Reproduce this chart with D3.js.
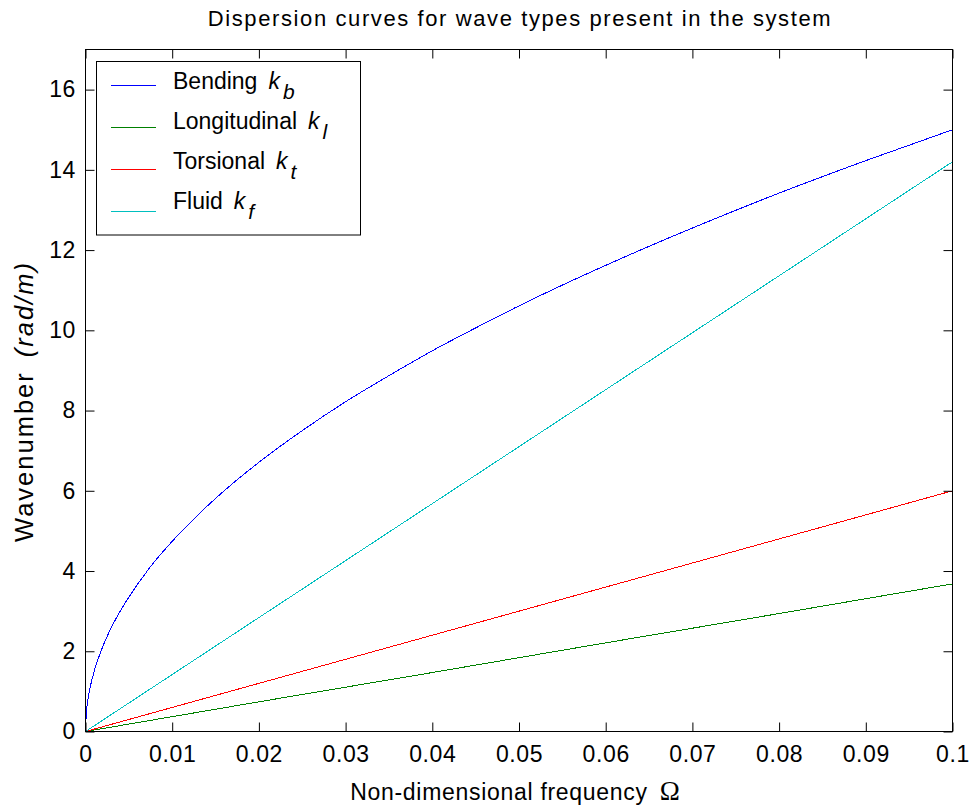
<!DOCTYPE html>
<html>
<head>
<meta charset="utf-8">
<script src="https://cdn.jsdelivr.net/npm/d3@7/dist/d3.min.js"></script>
<style>
  html, body { margin: 0; padding: 0; background: #fff; }
  svg { display: block; font-family: "Liberation Sans", Arial, sans-serif; }
</style>
</head>
<body>
<svg id="chart" width="971" height="808"></svg>
<script>
// Non-dimensional frequency samples and wavenumbers (rad/m) for each wave type
const omegaBending = [0, 0.0001, 0.0002, 0.0005, 0.001, 0.002, 0.003, 0.004, 0.005, 0.0075,
  0.01, 0.0125, 0.015, 0.02, 0.025, 0.03, 0.035, 0.04, 0.045, 0.05, 0.06, 0.07, 0.08, 0.09, 0.1];
const kBending = [0, 0.47, 0.67, 1.06, 1.50, 2.12, 2.60, 3.00, 3.35, 4.11,
  4.74, 5.30, 5.81, 6.71, 7.50, 8.22, 8.87, 9.49, 10.06, 10.61, 11.62, 12.55, 13.42, 14.23, 15.0];

const omegaLinear = [0, 0.02, 0.04, 0.06, 0.08, 0.1];
const kLongitudinal = [0, 0.74, 1.47, 2.21, 2.94, 3.68];
const kTorsional = [0, 1.2, 2.4, 3.6, 4.8, 6.0];
const kFluid = [0, 2.84, 5.68, 8.52, 11.36, 14.2];

const xTicks = [0, 0.01, 0.02, 0.03, 0.04, 0.05, 0.06, 0.07, 0.08, 0.09, 0.1];
const xTickLabels = ["0", "0.01", "0.02", "0.03", "0.04", "0.05", "0.06", "0.07", "0.08", "0.09", "0.1"];
const yTicks = [0, 2, 4, 6, 8, 10, 12, 14, 16];

const seriesNames = ["Bending", "Longitudinal", "Torsional", "Fluid"];
const seriesSubs = ["b", "l", "t", "f"];
const seriesColors = ["#0000ff", "#008000", "#ff0000", "#00bfbf"];

const series = [
  { x: omegaBending, y: kBending },
  { x: omegaLinear, y: kLongitudinal },
  { x: omegaLinear, y: kTorsional },
  { x: omegaLinear, y: kFluid }
];

const svg = d3.select("#chart");
const W = 971, H = 808;
const plot = { left: 85.5, top: 49.5, right: 952.5, bottom: 731.5 };

svg.append("rect").attr("width", W).attr("height", H).attr("fill", "#fff");

const x = d3.scaleLinear().domain([0, 0.1]).range([plot.left, plot.right]);
const y = d3.scaleLinear().domain([0, 17]).range([plot.bottom, plot.top]);

const fontSize = 23;
const tickLen = 9;

// Curves, drawn without anti-aliasing for a crisp 1px trace
const line = d3.line().x(d => x(d[0])).y(d => y(d[1])).curve(d3.curveMonotoneX);
svg.append("clipPath").attr("id", "plotclip").append("rect")
  .attr("x", plot.left).attr("y", plot.top)
  .attr("width", plot.right - plot.left + 1).attr("height", plot.bottom - plot.top);

const curves = svg.append("g").attr("clip-path", "url(#plotclip)");
series.forEach((s, i) => {
  const pts = s.x.map((v, j) => [v, s.y[j]]);
  curves.append("path")
    .attr("d", line(pts))
    .attr("fill", "none")
    .attr("stroke", seriesColors[i])
    .attr("stroke-width", 1)
    .attr("shape-rendering", "crispEdges");
});

// Axes: bottom and left carry labels, top and right mirror the ticks; all ticks point inward
const axisBottom = d3.axisBottom(x).tickValues(xTicks)
  .tickFormat((d, i) => xTickLabels[i]).tickSizeInner(-tickLen).tickSizeOuter(0).tickPadding(14);
const axisTop = d3.axisTop(x).tickValues(xTicks).tickFormat("").tickSizeInner(-tickLen).tickSizeOuter(0);
const axisLeft = d3.axisLeft(y).tickValues(yTicks).tickSizeInner(-tickLen).tickSizeOuter(0).tickPadding(9.5);
const axisRight = d3.axisRight(y).tickValues(yTicks).tickFormat("").tickSizeInner(-tickLen).tickSizeOuter(0);

function styleAxis(g) {
  g.select(".domain").remove();
  g.selectAll("line").attr("stroke", "#000").attr("stroke-width", 1);
  g.selectAll("text").attr("fill", "#000")
    .style("font-family", "'Liberation Sans', Arial, sans-serif")
    .style("font-size", fontSize + "px")
    .style("letter-spacing", "0.6px");
}

svg.append("g").attr("transform", `translate(0,${plot.bottom})`).call(axisBottom).call(styleAxis);
svg.append("g").attr("transform", `translate(0,${plot.top})`).call(axisTop).call(styleAxis);
svg.append("g").attr("transform", `translate(${plot.left},0)`).call(axisLeft).call(styleAxis);
svg.append("g").attr("transform", `translate(${plot.right},0)`).call(axisRight).call(styleAxis);

// Plot frame
svg.append("rect")
  .attr("x", plot.left).attr("y", plot.top)
  .attr("width", plot.right - plot.left).attr("height", plot.bottom - plot.top)
  .attr("fill", "none").attr("stroke", "#000").attr("stroke-width", 1);

// Title
svg.append("text")
  .attr("x", (plot.left + plot.right) / 2 + 1).attr("y", 26)
  .attr("text-anchor", "middle")
  .style("font-size", "22px")
  .style("letter-spacing", "1.6px")
  .text("Dispersion curves for wave types present in the system");

// X label with Greek Omega
const xl = svg.append("text")
  .attr("x", (plot.left + plot.right) / 2 - 4).attr("y", 800)
  .attr("text-anchor", "middle")
  .style("font-size", fontSize + "px");
xl.append("tspan").style("letter-spacing", "0.7px").text("Non-dimensional frequency");
xl.append("tspan").attr("dx", 12).style("font-family", "'Liberation Serif', 'DejaVu Serif', serif")
  .style("font-size", "27px").text("Ω");

// Y label with italic units
const yl = svg.append("text")
  .attr("transform", `translate(33,${(plot.top + plot.bottom) / 2 + 11}) rotate(-90)`)
  .attr("text-anchor", "middle")
  .style("font-size", "25.5px")
  .style("letter-spacing", "2px");
yl.append("tspan").text("Wavenumber");
yl.append("tspan").attr("dx", 14).style("font-style", "italic").text("(rad/m)");

// Legend
const legend = svg.append("g");
legend.append("rect")
  .attr("x", 96.5).attr("y", 61.5).attr("width", 264).attr("height", 173.5)
  .attr("fill", "#fff").attr("stroke", "#000").attr("stroke-width", 1);

seriesNames.forEach((name, i) => {
  const ly = 85.5 + 42 * i;
  legend.append("line")
    .attr("x1", 111).attr("x2", 156).attr("y1", ly).attr("y2", ly)
    .attr("stroke", seriesColors[i]).attr("stroke-width", 1);
  const t = legend.append("text")
    .attr("x", 173).attr("y", 89 + 40 * i)
    .style("font-size", fontSize + "px");
  t.append("tspan").text(name);
  t.append("tspan").attr("dx", 11).style("font-style", "italic").text("k");
  t.append("tspan").attr("dx", 3).attr("dy", 10).style("font-style", "italic")
    .style("font-size", "21px").text(seriesSubs[i]);
});
</script>
</body>
</html>
